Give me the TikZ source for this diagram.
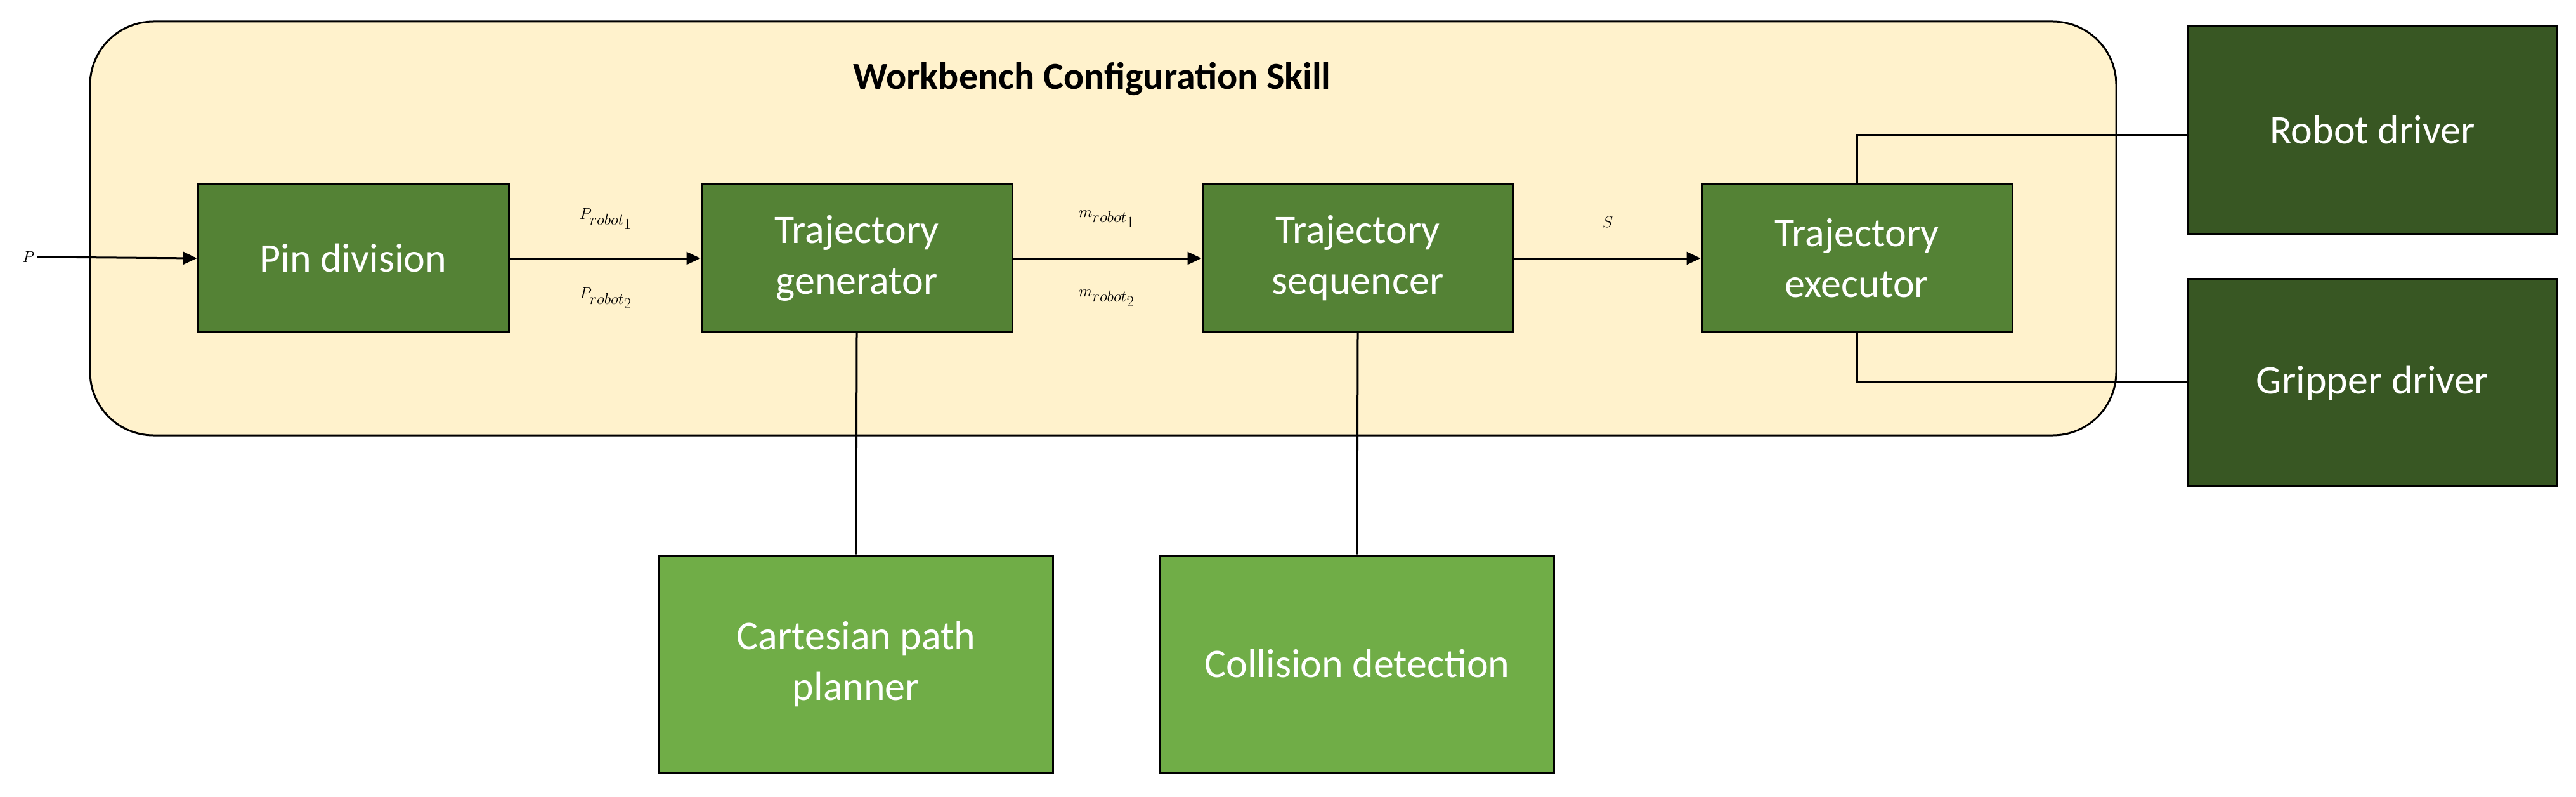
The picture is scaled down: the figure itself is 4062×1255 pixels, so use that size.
\documentclass[tikz,border=0pt]{standalone}
\usepackage{fontspec}
\setmainfont{Carlito}
\usetikzlibrary{arrows.meta}
\definecolor{cream}{HTML}{FFF2CC}
\definecolor{midg}{HTML}{548235}
\definecolor{lightg}{HTML}{70AD47}
\definecolor{darkg}{HTML}{385723}
\begin{document}
\begin{tikzpicture}[x=1pt,y=-1pt,
  blk/.style={draw=black,line width=3pt,text=white,align=center,inner sep=0pt,
    font=\fontsize{64}{80}\selectfont},
  mid/.style={blk,fill=midg,minimum width=490pt,minimum height=233pt},
  low/.style={blk,fill=lightg,minimum width=621pt,minimum height=342pt},
  drv/.style={blk,fill=darkg,minimum width=583pt,minimum height=327pt},
  con/.style={line width=3pt},
  arr/.style={con,-{Triangle[length=22pt,width=20pt]}},
  lab/.style={font=\fontsize{64}{80}\selectfont\itshape}]
\useasboundingbox (0,0) rectangle (4062,1255);
\node[draw=black,line width=3pt,fill=cream,rounded corners=100pt,minimum width=3195pt,minimum height=652pt,inner sep=0pt] (outer) at (1739.5,360) {};
\node[font=\fontsize{60}{72}\selectfont\bfseries] (title) at (1722,124) {Workbench Configuration Skill};
\node[mid] (pin) at (557,407) {Pin division};
\node[mid] (gen) at (1351,407) {Trajectory\\generator};
\node[mid] (seq) at (2141,407) {Trajectory\\sequencer};
\node[mid] (exe) at (2928,407) {Trajectory\\executor};
\node[drv] (rob) at (3741,205) {Robot driver};
\node[drv] (gri) at (3741,603) {Gripper driver};
\node[low] (car) at (1350,1046) {Cartesian path\\planner};
\node[low] (col) at (2140,1046) {Collision detection};
\node[lab,anchor=center] (p) at (45,405) {$P$};
\draw[arr] (p.east) -- (pin.west);
\draw[arr] (pin) -- (gen);
\draw[arr] (gen) -- (seq);
\draw[arr] (seq) -- (exe);
\node[font=\fontsize{64}{80}\selectfont] (l1) at (955,345) {$P_{robot_1}$};
\node[font=\fontsize{64}{80}\selectfont] (l2) at (955,470) {$P_{robot_2}$};
\node[font=\fontsize{64}{80}\selectfont] (l3) at (1745,345) {$m_{robot_1}$};
\node[font=\fontsize{64}{80}\selectfont] (l4) at (1745,470) {$m_{robot_2}$};
\node[font=\fontsize{64}{80}\selectfont] (l5) at (2535,350) {$S$};
\draw[con] (gen.south) -- (car.north);
\draw[con] (seq.south) -- (col.north);
\draw[con] (exe.north) |- (rob.west |- 0,212);
\draw[con] (exe.south) |- (gri.west |- 0,601);
\end{tikzpicture}
\end{document}
